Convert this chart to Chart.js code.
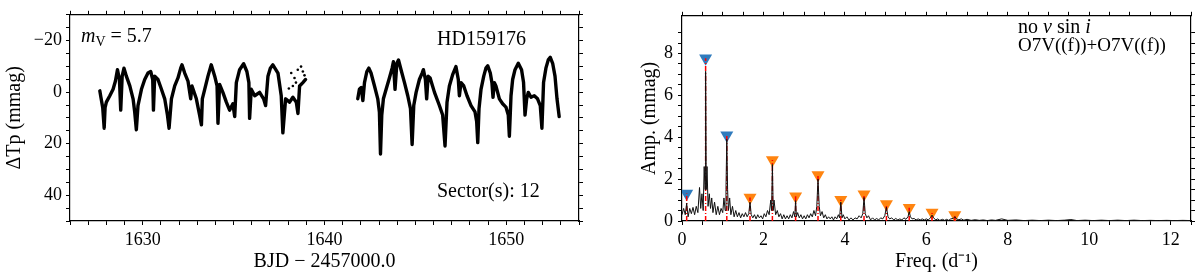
<!DOCTYPE html>
<html>
<head>
<meta charset="utf-8">
<script src="https://cdn.jsdelivr.net/npm/chart.js@4.4.1/dist/chart.umd.min.js"></script>
<style>
  html, body { margin: 0; padding: 0; background: #fff; }
  #wrap { position: relative; width: 1200px; height: 277px; }
  .pane { position: absolute; top: 0; width: 600px; height: 277px; }
</style>
</head>
<body>
<div id="wrap">
  <div class="pane" style="left:0"><canvas id="lcChart" width="600" height="277"></canvas></div>
  <div class="pane" style="left:600px"><canvas id="pgChart" width="600" height="277"></canvas></div>
</div>
<script>
// light curve, sector 12 (BJD - 2457000, mmag); null = gap between orbits
const lightCurve = [
  [1627.64, -0.5], [1627.70, 2], [1627.80, 6], [1627.88, 14], [1627.93, 6], [1628.00, 3.9],
  [1628.19, 1.4], [1628.37, -1.1], [1628.50, -4.3], [1628.61, -8.7], [1628.72, -4.9], [1628.79, 7],
  [1628.87, -6.2], [1628.97, -9.3], [1629.10, -6.2], [1629.29, -2.4], [1629.47, 2.6], [1629.56, 7.7],
  [1629.65, 14.6], [1629.74, 5.2], [1629.93, -1.1], [1630.11, -4.9], [1630.29, -7.4], [1630.44, -8],
  [1630.55, -4.9], [1630.59, 7], [1630.66, -6.2], [1630.84, -4.9], [1631.03, -1.1], [1631.21, 2.6],
  [1631.36, 8.9], [1631.45, 14], [1631.58, 2.6], [1631.76, -2.4], [1631.94, -5.5], [1632.09, -9.3],
  [1632.16, -10.6], [1632.31, -7.4], [1632.49, -4.3], [1632.64, 2.6], [1632.71, -2.4], [1632.95, 2.6],
  [1633.13, 8.9], [1633.23, 12.7], [1633.28, 2.6], [1633.41, -1.1], [1633.59, -6.2], [1633.77, -10.6],
  [1633.96, -6.2], [1634.09, -2.4], [1634.14, 12.1], [1634.23, -3], [1634.41, 0.1], [1634.60, 3.9],
  [1634.78, 7], [1634.96, 4.5], [1635.06, 9.5], [1635.15, -3.7], [1635.33, -8.7], [1635.55, -11],
  [1635.73, -8], [1635.84, -3.7], [1635.88, 10.2], [1635.97, -1.1], [1636.16, 1.4], [1636.43, 0.1],
  [1636.65, 2.6], [1636.76, 5.2], [1636.89, -6.2], [1637.02, -9.3], [1637.16, -10.6], [1637.44, -7.4],
  [1637.62, 1.4], [1637.71, 15.8], [1637.86, 2.6], [1638.08, 3.9], [1638.26, 2], [1638.45, 3.9],
  [1638.54, 8.3], [1638.63, -2.4], [1638.81, -3.7], [1638.96, -4.9],
  [1640.50, null],
  [1641.83, 2.6], [1641.92, -1.1], [1642.02, -1.8], [1642.11, 3.3], [1642.20, -3.7], [1642.33, -8],
  [1642.44, -9.3], [1642.56, -7.4], [1642.75, -2.4], [1642.93, 2.6], [1643.02, 7.7], [1643.08, 24],
  [1643.15, 8.9], [1643.24, 2.6], [1643.39, -1.1], [1643.57, -5.5], [1643.72, -9.3], [1643.79, -11.8],
  [1643.88, -1.1], [1643.98, -11.2], [1644.07, -12.5], [1644.21, -8.7], [1644.40, -3.7], [1644.58, 1.4],
  [1644.73, 6.4], [1644.82, 20.3], [1644.91, 5.2], [1645.04, 0.1], [1645.22, -4.9], [1645.37, -7.4],
  [1645.44, -8.7], [1645.55, -4.9], [1645.62, 2.6], [1645.70, -6.2], [1645.81, -5.5], [1646.05, 0.1],
  [1646.32, 5.2], [1646.50, 8.9], [1646.63, 20.9], [1646.74, 3.9], [1646.87, -2.4], [1647.05, -6.8],
  [1647.23, -9.9], [1647.36, -4.9], [1647.42, 1.4], [1647.51, -3.7], [1647.66, -2.4], [1647.84, 1.4],
  [1648.06, 5.2], [1648.28, 7.7], [1648.37, 11.4], [1648.43, 19.6], [1648.50, 6.4], [1648.61, -1.1],
  [1648.76, -6.2], [1648.88, -9.3], [1648.98, -10.2], [1649.12, -7.4], [1649.21, -3.7], [1649.27, 2],
  [1649.34, -3.7], [1649.43, -2.4], [1649.62, 2.6], [1649.80, 4.5], [1649.98, 5.8], [1650.11, 8.9],
  [1650.17, 17.1], [1650.26, 1.4], [1650.35, -4.9], [1650.48, -8.7], [1650.66, -11.2], [1650.84, -8.7],
  [1650.95, -3.7], [1651.03, 8.9], [1651.12, 2.6], [1651.21, 0.1], [1651.36, 2], [1651.54, 1.4],
  [1651.72, 2.6], [1651.87, 5.2], [1651.96, 14], [1652.05, -3.7], [1652.18, -9.3], [1652.31, -12.5],
  [1652.42, -13.5], [1652.55, -11.2], [1652.68, -6.2], [1652.79, 2.6], [1652.91, 9.5]
];
// loose points near the end of the first orbit
const strayPoints = [
  [1638.04, -1.4], [1638.17, -7.4], [1638.26, -2.4], [1638.35, -5.5], [1638.43, -3.7],
  [1638.53, -8.7], [1638.71, -9.9], [1638.81, -8], [1638.90, -6.5]
];

// amplitude spectrum (d^-1, mmag)
const spectrum = [
  [0.00, 0.30], [0.04, 0.60], [0.08, 0.30], [0.115, 0.85], [0.15, 0.20], [0.19, 0.60], [0.23, 0.35],
  [0.27, 0.65], [0.31, 0.30], [0.35, 0.70], [0.39, 0.40], [0.43, 1.60], [0.46, 0.60], [0.49, 1.30],
  [0.52, 0.50], [0.545, 2.60], [0.565, 1.50], [0.58, 7.15], [0.595, 1.50], [0.615, 2.60], [0.64, 0.70],
  [0.67, 1.30], [0.70, 0.60], [0.73, 1.10], [0.76, 0.40], [0.80, 0.90], [0.84, 0.30], [0.88, 0.70],
  [0.92, 0.30], [0.96, 0.60], [1.00, 0.40], [1.03, 1.10], [1.06, 0.50], [1.08, 1.50], [1.10, 3.90],
  [1.12, 1.50], [1.14, 0.50], [1.17, 1.10], [1.20, 0.30], [1.24, 0.70], [1.28, 0.20], [1.32, 0.50],
  [1.36, 0.20], [1.40, 0.40], [1.44, 0.15], [1.48, 0.35], [1.52, 0.20], [1.56, 0.40], [1.60, 0.20],
  [1.64, 0.35], [1.67, 0.90], [1.70, 0.30], [1.74, 0.15], [1.78, 0.30], [1.82, 0.10], [1.86, 0.30],
  [1.90, 0.15], [1.94, 0.25], [1.98, 0.10], [2.02, 0.35], [2.06, 0.20], [2.10, 0.50], [2.14, 0.30],
  [2.18, 1.00], [2.20, 0.50], [2.22, 2.70], [2.24, 0.50], [2.26, 1.00], [2.30, 0.30], [2.34, 0.50],
  [2.38, 0.20], [2.42, 0.35], [2.46, 0.10], [2.50, 0.30], [2.54, 0.10], [2.58, 0.25], [2.62, 0.10],
  [2.66, 0.30], [2.70, 0.15], [2.74, 0.45], [2.77, 0.20], [2.79, 0.97], [2.81, 0.20], [2.84, 0.40],
  [2.88, 0.15], [2.92, 0.30], [2.96, 0.10], [3.00, 0.25], [3.04, 0.10], [3.08, 0.30], [3.12, 0.15],
  [3.16, 0.35], [3.20, 0.20], [3.24, 0.50], [3.28, 0.25], [3.31, 0.70], [3.34, 2.00], [3.37, 0.70],
  [3.40, 0.25], [3.44, 0.45], [3.48, 0.15], [3.52, 0.30], [3.56, 0.10], [3.60, 0.20], [3.64, 0.10],
  [3.68, 0.20], [3.72, 0.05], [3.76, 0.20], [3.80, 0.10], [3.84, 0.30], [3.87, 0.15], [3.90, 0.90],
  [3.93, 0.15], [3.96, 0.30], [4.00, 0.10], [4.05, 0.20], [4.10, 0.05], [4.15, 0.15], [4.20, 0.05],
  [4.25, 0.15], [4.30, 0.10], [4.35, 0.25], [4.40, 0.15], [4.44, 0.35], [4.47, 1.12], [4.50, 0.35],
  [4.54, 0.15], [4.58, 0.25], [4.63, 0.05], [4.68, 0.15], [4.73, 0.05], [4.78, 0.12], [4.83, 0.05],
  [4.88, 0.15], [4.93, 0.10], [4.98, 0.25], [5.02, 0.66], [5.06, 0.20], [5.10, 0.10], [5.15, 0.15],
  [5.20, 0.05], [5.25, 0.12], [5.30, 0.05], [5.35, 0.10], [5.40, 0.05], [5.45, 0.15], [5.50, 0.08],
  [5.55, 0.20], [5.58, 0.45], [5.61, 0.20], [5.65, 0.10], [5.70, 0.12], [5.75, 0.05], [5.80, 0.10],
  [5.85, 0.05], [5.90, 0.10], [5.95, 0.05], [6.00, 0.10], [6.05, 0.05], [6.10, 0.15], [6.14, 0.28],
  [6.18, 0.15], [6.23, 0.05], [6.28, 0.10], [6.33, 0.03], [6.40, 0.08], [6.45, 0.03], [6.50, 0.08],
  [6.55, 0.03], [6.60, 0.10], [6.66, 0.12], [6.70, 0.20], [6.74, 0.10], [6.80, 0.06], [6.86, 0.10],
  [6.92, 0.04], [7.00, 0.08], [7.10, 0.03], [7.20, 0.06], [7.30, 0.03], [7.40, 0.05], [7.50, 0.02],
  [7.60, 0.05], [7.70, 0.03], [7.85, 0.10], [8.00, 0.03], [8.20, 0.05], [8.40, 0.02], [8.60, 0.04],
  [8.80, 0.02], [9.00, 0.04], [9.20, 0.02], [9.40, 0.04], [9.55, 0.07], [9.70, 0.02], [9.90, 0.04],
  [10.10, 0.02], [10.30, 0.04], [10.50, 0.02], [10.70, 0.04], [10.90, 0.02], [11.10, 0.04], [11.30, 0.02],
  [11.50, 0.03], [11.70, 0.02], [11.90, 0.03], [12.10, 0.02], [12.30, 0.03], [12.50, 0.02]
];

// marked frequencies: blue = independent, orange = harmonics
const blueFreq = [0.115, 0.58, 1.10];
const blueAmp = [1.31, 7.77, 4.09];
const orangeFreq = [1.67, 2.22, 2.79, 3.34, 3.90, 4.47, 5.02, 5.58, 6.14, 6.70];
const orangeAmp = [1.12, 2.91, 1.18, 2.20, 1.02, 1.28, 0.81, 0.63, 0.40, 0.29];

const SERIF = "'Liberation Serif', 'Times New Roman', serif";

function frameAxis(position, min, max, step, size, o) {
  o = o || {};
  return {
    type: 'linear', position: position, min: min, max: max, reverse: !!o.reverse,
    afterFit: s => { if (s.isHorizontal()) s.height = size; else s.width = size; },
    afterBuildTicks: s => {
      s.ticks = s.ticks.filter(t => Math.abs(t.value / step - Math.round(t.value / step)) < 1e-6);
    },
    grid: { drawOnChartArea: false, drawTicks: true, tickLength: 4, tickColor: '#000', tickWidth: 1 },
    border: { display: true, color: '#000', width: 1.2 },
    ticks: {
      display: !!o.major, stepSize: step, autoSkip: false, maxRotation: 0, padding: o.pad || 4,
      color: '#000', font: { family: SERIF, size: 18 },
      callback: v => {
        if (!o.major || Math.abs(v % o.major) > 1e-6) return '';
        return v < 0 ? '\u2212' + (-v) : String(v);
      }
    },
    title: o.title ? {
      display: true, text: o.title, color: '#000',
      font: { family: SERIF, size: 20 }, padding: o.titlePad
    } : { display: false }
  };
}

// text runs: [text, size, italic, dy]
function drawRuns(ctx, x, y, runs) {
  runs.forEach(r => {
    ctx.font = (r[2] ? 'italic ' : '') + r[1] + 'px ' + SERIF;
    ctx.fillText(r[0], x, y + (r[3] || 0));
    x += ctx.measureText(r[0]).width;
  });
}

function notes(lines) {
  return {
    id: 'notes',
    afterDraw(chart) {
      const ctx = chart.ctx;
      ctx.save();
      ctx.fillStyle = '#000';
      ctx.textBaseline = 'alphabetic';
      lines.forEach(l => drawRuns(ctx, l[0], l[1], l[2]));
      ctx.restore();
    }
  };
}

const noAnim = { animation: false, responsive: false, events: [],
  plugins: { legend: { display: false }, tooltip: { enabled: false } } };

new Chart(document.getElementById('lcChart'), {
  type: 'scatter',
  data: {
    datasets: [{
      data: lightCurve.map(p => ({ x: p[0], y: p[1] })),
      showLine: true, spanGaps: false, borderColor: '#000', borderWidth: 3.4,
      borderJoinStyle: 'round', borderCapStyle: 'round', pointRadius: 0
    }, {
      data: strayPoints.map(p => ({ x: p[0], y: p[1] })),
      pointRadius: 1.3, backgroundColor: '#000', borderWidth: 0
    }]
  },
  options: Object.assign({}, noAnim, {
    layout: { padding: 0 },
    scales: {
      x: frameAxis('bottom', 1626, 1654, 1, 56, { major: 10, pad: 4, title: 'BJD \u2212 2457000.0', titlePad: { bottom: 3 } }),
      x2: frameAxis('top', 1626, 1654, 1, 8),
      y: frameAxis('left', -30, 50, 5, 70, { major: 20, pad: 4, reverse: true, title: '\u0394Tp (mmag)', titlePad: { top: 3 } }),
      y2: frameAxis('right', -30, 50, 5, 21, { reverse: true })
    }
  }),
  plugins: [notes([
    [81, 42, [['m', 20, true], ['V', 14, false, 4], [' = 5.7', 20, false]]],
    [437, 45, [['HD159176', 20, false]]],
    [437, 197, [['Sector(s): 12', 20, false]]]
  ])]
});

const stems = [];
blueFreq.concat(orangeFreq).forEach((f, i) => {
  const a = i < blueFreq.length ? blueAmp[i] : orangeAmp[i - blueFreq.length];
  stems.push({ x: f, y: 0 }, { x: f, y: a }, { x: f, y: null });
});

new Chart(document.getElementById('pgChart'), {
  type: 'scatter',
  data: {
    datasets: [{
      data: spectrum.map(p => ({ x: p[0], y: p[1] })),
      showLine: true, borderColor: '#111', borderWidth: 1, pointRadius: 0
    }, {
      data: stems, showLine: true, spanGaps: false, borderColor: '#ff0000', borderWidth: 1.5,
      borderDash: [5, 2, 1, 2], pointRadius: 0
    }, {
      data: blueFreq.map((f, i) => ({ x: f, y: blueAmp[i] })),
      pointStyle: 'triangle', rotation: 180, pointRadius: 7.5,
      backgroundColor: '#2f7bbd', borderColor: '#2f7bbd', borderWidth: 0
    }, {
      data: orangeFreq.map((f, i) => ({ x: f, y: orangeAmp[i] })),
      pointStyle: 'triangle', rotation: 180, pointRadius: 7.5,
      backgroundColor: '#ff8410', borderColor: '#ff8410', borderWidth: 0
    }]
  },
  options: Object.assign({}, noAnim, {
    layout: { padding: 0 },
    scales: {
      x: frameAxis('bottom', 0, 12.5, 0.5, 56, { major: 2, pad: 4, title: 'Freq. (d\u207B\u00B9)', titlePad: { bottom: 3 } }),
      x2: frameAxis('top', 0, 12.5, 0.5, 8),
      y: frameAxis('left', 0, 9.8, 0.5, 82, { major: 2, pad: 5, title: 'Amp. (mmag)', titlePad: { top: 38 } }),
      y2: frameAxis('right', 0, 9.8, 0.5, 9)
    }
  }),
  plugins: [notes([
    [418, 33, [['no ', 20, false], ['v', 20, true], [' sin ', 20, false], ['i', 20, true]]],
    [418, 51, [['O7V((f))+O7V((f))', 19, false]]]
  ])]
});
</script>
</body>
</html>
